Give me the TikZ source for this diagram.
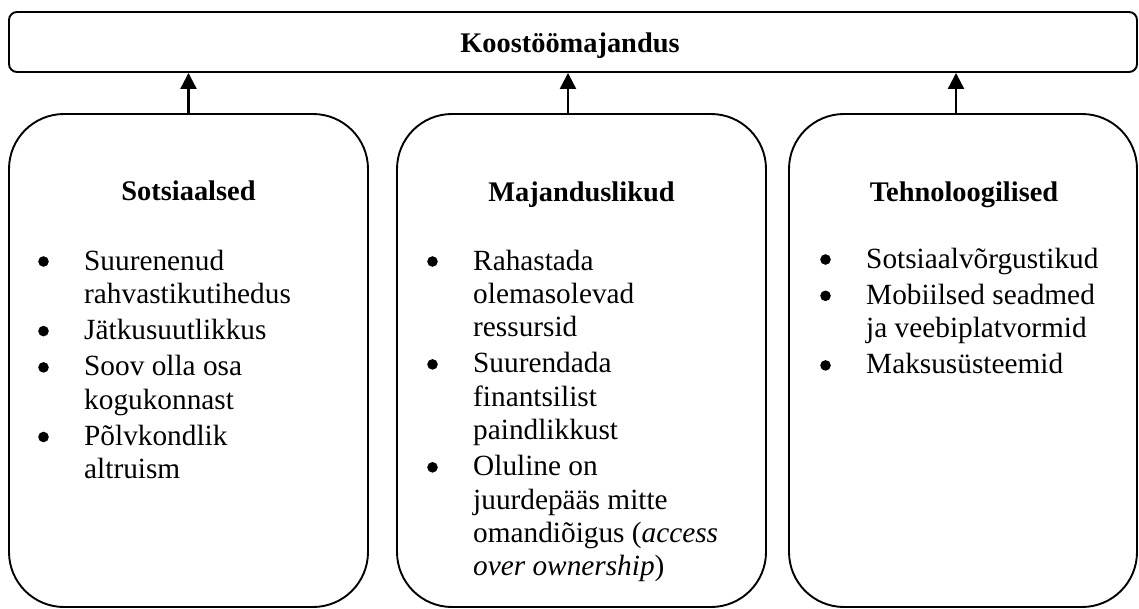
\documentclass[tikz,border=0pt]{standalone}
\usepackage{fontspec}
\setmainfont{Liberation Serif}
\usetikzlibrary{arrows.meta}
\newcommand\bul{\tikz[x=1pt,y=1pt,baseline=0pt]\fill (5,8.5) circle[radius=5.3];}
\newcommand\lst[1]{\fontsize{29.3}{33.3}\selectfont\begin{tabular}[t]{@{}p{46pt}@{}l@{}}#1\end{tabular}}
\tikzset{
  bigbox/.style={draw, line width=1.9pt, rounded corners=55pt, minimum width=#1, minimum height=493pt, inner sep=0pt},
  topbox/.style={draw, line width=1.9pt, rounded corners=8pt, minimum width=1128pt, minimum height=60pt, inner sep=0pt},
  ttl/.style={font=\fontsize{28.4}{33}\selectfont\bfseries, anchor=base, inner sep=0pt},
  lstnode/.style={anchor=base west, inner sep=0pt},
  arr/.style={line width=2.2pt, -{Triangle[length=16pt,width=16pt]}}
}
\begin{document}
\begin{tikzpicture}[x=1pt,y=-1pt]
\useasboundingbox (0,0) rectangle (1139,608);
\node[topbox] (top) at (573,42) {};
\node[ttl] (t0) at (570,52) {Koostöömajandus};

\node[bigbox=359pt] (b1) at (188.5,360.5) {};
\node[bigbox=369pt] (b2) at (581.5,360.5) {};
\node[bigbox=348pt] (b3) at (963,360.5) {};

\node[ttl] (t1) at (188.5,200) {Sotsiaalsed};
\node[ttl] (t2) at (581.5,201) {Majanduslikud};
\node[ttl] (t3) at (964,201) {Tehnoloogilised};

\node[lstnode] (l1) at (38,270) {\lst{%
\bul & Suurenenud\\ & rahvastikutihedus\\[3pt]
\bul & Jätkusuutlikkus\\[3pt]
\bul & Soov olla osa\\ & kogukonnast\\[3pt]
\bul & Põlvkondlik\\ & altruism}};

\node[lstnode] (l2) at (427,270) {\lst{%
\bul & Rahastada\\ & olemasolevad\\ & ressursid\\[3pt]
\bul & Suurendada\\ & finantsilist\\ & paindlikkust\\[3pt]
\bul & Oluline on\\ & juurdepääs mitte\\ & omandiõigus (\textit{access}\\ & \textit{over ownership})}};

\node[lstnode] (l3) at (820,268) {\lst{%
\bul & Sotsiaalvõrgustikud\\[3pt]
\bul & Mobiilsed seadmed\\ & ja veebiplatvormid\\[3pt]
\bul & Maksusüsteemid}};

\draw[arr] (b1.north) -- (b1.north |- top.south);
\draw[arr] ([xshift=-13.5pt]b2.north) -- ([xshift=-13.5pt]b2.north |- top.south);
\draw[arr] ([xshift=-7pt]b3.north) -- ([xshift=-7pt]b3.north |- top.south);
\end{tikzpicture}
\end{document}
